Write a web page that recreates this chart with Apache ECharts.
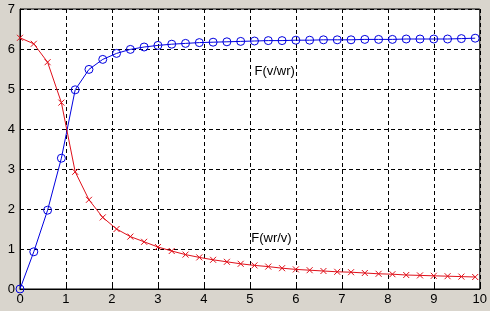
<!DOCTYPE html>
<html>
<head>
<meta charset="utf-8">
<script src="https://cdn.jsdelivr.net/npm/echarts@6/dist/echarts.min.js"></script>
<style>
html,body{margin:0;padding:0;background:#d9d5cd;}
#c{width:490px;height:311px;}
</style>
</head>
<body>
<div id="c"></div>
<script>
var xValues = [0,0.3,0.6,0.9,1.2,1.5,1.8,2.1,2.4,2.7,3.0,3.3,3.6,3.9,4.2,4.5,4.8,5.1,5.4,5.7,6.0,6.3,6.6,6.9,7.2,7.5,7.8,8.1,8.4,8.7,9.0,9.3,9.6,9.9];
var fVWr = [0,0.93,1.97,3.27,4.98,5.49,5.74,5.89,5.99,6.05,6.09,6.12,6.14,6.16,6.17,6.18,6.19,6.20,6.21,6.21,6.22,6.22,6.23,6.23,6.23,6.24,6.24,6.24,6.25,6.25,6.25,6.25,6.26,6.27];
var fWrV = [6.28,6.13,5.67,4.66,2.93,2.23,1.79,1.50,1.31,1.18,1.05,0.95,0.86,0.79,0.73,0.68,0.63,0.59,0.56,0.52,0.49,0.47,0.45,0.43,0.42,0.40,0.38,0.37,0.35,0.34,0.33,0.32,0.31,0.30];
var seriesNames = ['F(v/wr)', 'F(wr/v)'];
var xTicks = [0,1,2,3,4,5,6,7,8,9,10];
var yTicks = [0,1,2,3,4,5,6,7];

function pairs(xs, ys){ return xs.map(function(x,i){ return [x, ys[i]]; }); }

var chart = echarts.init(document.getElementById('c'), null, {renderer:'canvas'});
var font = 'Liberation Sans, Arial, sans-serif';
var gridLine = {show:true, lineStyle:{color:'#000', type:[4,3], width:1}};
var option = {
  backgroundColor:'#d9d5cd',
  animation:false,
  grid:{left:20, right:10, top:9, bottom:22, show:true, backgroundColor:'#fff', borderColor:'#000', borderWidth:1},
  xAxis:{type:'value', min:xTicks[0], max:xTicks[xTicks.length-1], interval:1,
    axisLine:{show:true, lineStyle:{color:'#000'}},
    axisTick:{show:true, inside:true, length:4, lineStyle:{color:'#000'}},
    axisLabel:{color:'#000', fontFamily:font, fontSize:13, margin:4},
    splitLine:gridLine},
  yAxis:{type:'value', min:yTicks[0], max:yTicks[yTicks.length-1], interval:1,
    axisLine:{show:true, lineStyle:{color:'#000'}},
    axisTick:{show:true, inside:true, length:4, lineStyle:{color:'#000'}},
    axisLabel:{color:'#000', fontFamily:font, fontSize:13, margin:5},
    splitLine:gridLine},
  series:[
    {name:seriesNames[0], type:'line', data:pairs(xValues,fVWr),
     symbol:'circle', symbolSize:8, showAllSymbol:true,
     lineStyle:{color:'#0000e0', width:1},
     itemStyle:{color:'rgba(0,0,0,0)', borderColor:'#0000e0', borderWidth:1}},
    {name:seriesNames[1], type:'line', data:pairs(xValues,fWrV),
     symbol:'path://M0,0L10,10M10,0L0,10', symbolSize:6, showAllSymbol:true,
     lineStyle:{color:'#e0101a', width:1},
     itemStyle:{color:'rgba(0,0,0,0)', borderColor:'#e0101a', borderWidth:1}}
  ]
};
chart.setOption(option);
var p1 = chart.convertToPixel({gridIndex:0}, [5.1, 5.4]);
var p2 = chart.convertToPixel({gridIndex:0}, [5.03, 1.22]);
chart.setOption({graphic:[
  {type:'text', left:p1[0], top:p1[1]-8, style:{text:seriesNames[0], fill:'#000', font:'13px '+font}},
  {type:'text', left:p2[0], top:p2[1]-8, style:{text:seriesNames[1], fill:'#000', font:'13px '+font}}
]});
</script>
</body>
</html>
